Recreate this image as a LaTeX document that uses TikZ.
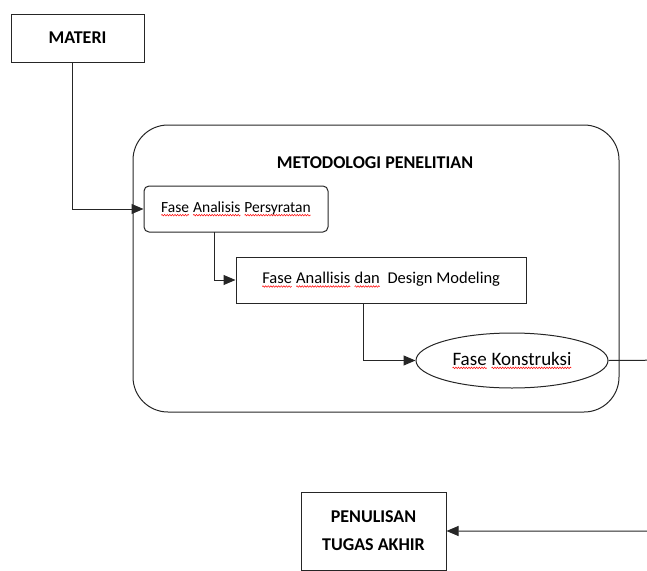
\documentclass[tikz,border=0pt]{standalone}
\usepackage{fontspec}
\setmainfont{Carlito}
\usetikzlibrary{shapes.geometric,arrows.meta,decorations.pathmorphing}
\newcommand\redwave[1]{\tikz[baseline=(w.base)]{\node[shape=rectangle,draw=none,fill=none,inner sep=0pt,outer sep=0pt,minimum width=0pt,minimum height=0pt,rounded corners=0pt] (w) {#1};\draw[red,line width=0.5pt,sharp corners,decorate,decoration={snake,amplitude=0.8pt,segment length=2.6pt}] ([yshift=-2.6pt]w.base west) -- ([yshift=-2.6pt]w.base east);}}
\tikzset{
  ln/.style={line width=1pt, draw=black!85},
  arr/.style={ln, -{Triangle[length=12pt,width=10pt]}},
  boxb/.style={ln, rectangle, inner sep=0pt, align=center, font=\fontsize{18}{28}\selectfont\bfseries},
  boxn/.style={ln, rectangle, inner sep=0pt},
}
\begin{document}
\begin{tikzpicture}[x=1pt,y=-1pt]
\useasboundingbox (0,0) rectangle (647,570);
\node[boxb, minimum width=133pt, minimum height=48pt] (materi) at (77.5,38) {MATERI};
\node[ln, rectangle, rounded corners=35pt, minimum width=486pt, minimum height=287pt] (big) at (376,268.5) {};
\node[font=\fontsize{18}{20}\selectfont\bfseries] (title) at (375,163) {METODOLOGI PENELITIAN};
\node[boxn, rounded corners=5pt, minimum width=184pt, minimum height=46pt, font=\fontsize{15.5}{18}\selectfont] (fa) at (236,209) {\redwave{Fase} \redwave{Analisis} \redwave{Persyratan}};
\node[boxn, minimum width=290pt, minimum height=46pt, font=\fontsize{16.5}{18}\selectfont] (fd) at (381,280) {\redwave{Fase} \redwave{Anallisis} \redwave{dan}\ \ Design Modeling};
\node[boxn, ellipse, minimum width=192pt, minimum height=55pt, font=\fontsize{19}{20}\selectfont] (fk) at (512,360.5) {\redwave{Fase} \redwave{Konstruksi}};
\node[boxb, minimum width=145pt, minimum height=78pt] (pen) at (373.5,531) {PENULISAN\\TUGAS AKHIR};
\coordinate (c1) at (72.5,62);
\coordinate (c2) at (214,232);
\coordinate (c3) at (363,303);
\coordinate (r) at (680,360);
\draw[arr] (c1) |- (fa.west);
\draw[arr] (c2) |- (fd.west);
\draw[arr] (c3) |- (fk.west);
\draw[arr] (fk.east) -- (r) |- (pen.east);
\end{tikzpicture}
\end{document}
